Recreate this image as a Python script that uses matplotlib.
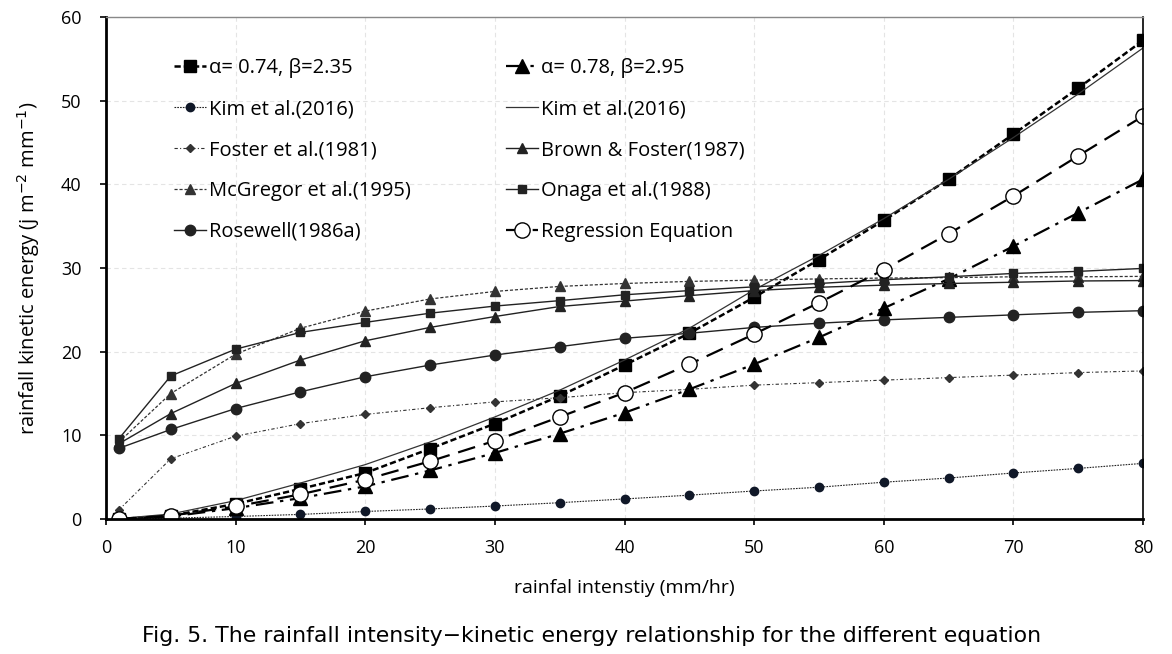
import numpy as np
import matplotlib.pyplot as plt

plt.rcParams['font.family'] = ['Open Sans', 'DejaVu Sans']

# rainfall intensity (mm/hr)
x = [1, 5, 10, 15, 20, 25, 30, 35, 40, 45, 50, 55, 60, 65, 70, 75, 80]

# kinetic energy values
a074 = [0.0, 0.4, 1.8, 3.6, 5.5, 8.4, 11.4, 14.7, 18.4, 22.2, 26.5, 31.0, 35.7, 40.6, 46.0, 51.5, 57.2]
a078 = [0.0, 0.3, 1.3, 2.5, 3.9, 5.8, 7.9, 10.2, 12.7, 15.5, 18.5, 21.7, 25.2, 28.7, 32.6, 36.6, 40.6]
kim_dot = [0.0, 0.1, 0.3, 0.55, 0.9, 1.2, 1.55, 1.95, 2.4, 2.85, 3.35, 3.8, 4.4, 4.9, 5.5, 6.05, 6.65]
kim_line = [0.05, 0.6, 2.2, 4.3, 6.5, 9.2, 12.2, 15.4, 19.0, 22.8, 27.4, 31.5, 35.9, 40.6, 45.6, 50.8, 56.3]
foster = [1.1, 7.2, 9.9, 11.4, 12.5, 13.3, 14.0, 14.5, 15.1, 15.5, 16.0, 16.3, 16.6, 16.9, 17.2, 17.5, 17.7]
brown = [9.0, 12.6, 16.2, 19.0, 21.3, 22.9, 24.2, 25.4, 26.05, 26.7, 27.3, 27.7, 27.95, 28.15, 28.3, 28.45, 28.5]
mcgregor = [9.2, 15.0, 19.7, 22.8, 24.85, 26.3, 27.2, 27.8, 28.15, 28.4, 28.55, 28.7, 28.8, 28.85, 28.95, 28.95, 29.0]
onaga = [9.6, 17.1, 20.3, 22.3, 23.5, 24.6, 25.45, 26.1, 26.8, 27.3, 27.75, 28.15, 28.6, 28.95, 29.35, 29.6, 29.95]
rosewell = [8.45, 10.7, 13.2, 15.2, 17.0, 18.4, 19.6, 20.6, 21.6, 22.2, 22.9, 23.4, 23.8, 24.1, 24.4, 24.7, 24.9]
regression = [0.0, 0.4, 1.5, 2.95, 4.7, 6.9, 9.35, 12.2, 15.1, 18.5, 22.1, 25.85, 29.8, 34.1, 38.6, 43.4, 48.15]

fig = plt.figure(figsize=(11.72, 6.54), dpi=100)
ax = fig.add_axes([0.0904, 0.2064, 0.8849, 0.7676])

h1, = ax.plot(x, a074, color='black', lw=1.8, ls=(0, (2.5, 1.2)), marker='s', ms=8.5,
              label='α= 0.74, β=2.35')
h2, = ax.plot(x, kim_dot, color='#222', lw=0.8, ls=(0, (1.5, 1)), marker='o', ms=6,
              mfc='#101828', mec='#101828', label='Kim et al.(2016)')
h3, = ax.plot(x, foster, color='#333', lw=0.8, ls=(0, (3, 2, 1, 2)), marker='D', ms=4,
              label='Foster et al.(1981)')
h4, = ax.plot(x, mcgregor, color='#333', lw=0.9, ls=(0, (2.5, 1.5)), marker='^', ms=7,
              label='McGregor et al.(1995)')
h5, = ax.plot(x, rosewell, color='#222', lw=1.0, ls='-', marker='o', ms=7.5,
              label='Rosewell(1986a)')
h6, = ax.plot(x, a078, color='black', lw=1.6, ls=(0, (8, 3, 1.5, 3)), marker='^', ms=9.5,
              label='α= 0.78, β=2.95')
h7, = ax.plot(x, kim_line, color='#333', lw=0.9, ls='-', label='Kim et al.(2016)')
h8, = ax.plot(x, brown, color='#222', lw=1.0, ls='-', marker='^', ms=7,
              label='Brown & Foster(1987)')
h9, = ax.plot(x, onaga, color='#222', lw=1.0, ls='-', marker='s', ms=6,
              label='Onaga et al.(1988)')
h10, = ax.plot(x, regression, color='black', lw=1.6, ls=(0, (8, 4)), marker='o', ms=11,
               mfc='white', mec='black', mew=1.0, label='Regression Equation')

ax.set_xlim(0, 80)
ax.set_ylim(0, 60)
ax.set_xticks(np.arange(0, 81, 10))
ax.set_yticks(np.arange(0, 61, 10))
ax.tick_params(direction='out', length=4.5, width=1.2, labelsize=13)
ax.tick_params(axis='x', pad=10)
ax.tick_params(axis='y', pad=13)
ax.grid(True, color='#e4e4e4', ls=(0, (4, 3)), lw=0.8)
ax.set_axisbelow(True)
for s in ['left', 'bottom']:
    ax.spines[s].set_linewidth(2)
ax.spines['top'].set_color('#888')
ax.spines['top'].set_linewidth(1)
ax.spines['right'].set_linewidth(1.2)

ax.set_xlabel('rainfal intenstiy (mm/hr)', fontsize=14, labelpad=16)
ax.set_ylabel('rainfall kinetic energy (j m$^{-2}$ mm$^{-1}$)', fontsize=14.5, labelpad=14)

ax.legend(handles=[h1, h2, h3, h4, h5, h6, h7, h8, h9, h10], ncol=2, frameon=False,
          loc='upper left', bbox_to_anchor=(0.048, 0.954), fontsize=14.5,
          handlelength=1.6, handletextpad=0.15, labelspacing=1.04, columnspacing=4.7)

fig.text(0.505, 0.028, 'Fig. 5. The rainfall intensity−kinetic energy relationship for the different equation',
         ha='center', va='center', fontsize=15.8, family='DejaVu Sans')

fig.savefig('out.png', dpi=100)
